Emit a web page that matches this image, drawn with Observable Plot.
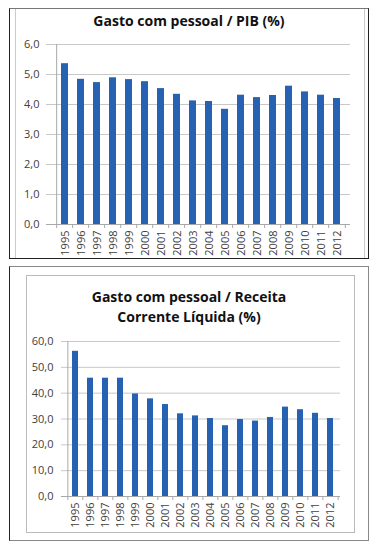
<!DOCTYPE html>
<html>
<head>
<meta charset="utf-8">
<script src="https://cdn.jsdelivr.net/npm/d3@7"></script>
<script src="https://cdn.jsdelivr.net/npm/@observablehq/plot@0.6"></script>
<style>
  html, body { margin: 0; padding: 0; background: #fff; }
  body { width: 378px; height: 546px; position: relative; overflow: hidden; font-family: "Open Sans", sans-serif; }
  .box { position: absolute; box-sizing: border-box; }
  .title { position: absolute; left: 0; width: 378px; text-align: center; font-weight: 700; color: #111; font-size: 14px; line-height: 19.5px; }
  .holder { position: absolute; }
</style>
</head>
<body>
<div class="box" style="left:9px;top:8px;width:360px;height:251px;border:1px solid #222;border-top-color:#777;"></div>
<div class="box" style="left:15px;top:9px;width:350px;height:249px;border-left:1px solid #ccc;border-right:1px solid #ccc;"></div>
<div class="title" style="top:11px;">Gasto com pessoal / PIB (%)</div>
<div class="holder" id="c1" style="left:10px;top:35px;"></div>

<div class="box" style="left:9px;top:266px;width:360px;height:275px;border:1px solid #222;border-top-color:#888;border-right-color:#888;border-bottom-color:#888;"></div>
<div class="box" style="left:26px;top:275px;width:329px;height:258px;border:1px solid #bbb;"></div>
<div class="title" style="top:287px;">Gasto com pessoal / Receita<br>Corrente Líquida (%)</div>
<div class="holder" id="c2" style="left:26px;top:330px;"></div>

<script>
const years = ["1995","1996","1997","1998","1999","2000","2001","2002","2003","2004","2005","2006","2007","2008","2009","2010","2011","2012"];
const pibValues = [5.36, 4.84, 4.73, 4.89, 4.83, 4.76, 4.53, 4.34, 4.12, 4.10, 3.84, 4.31, 4.23, 4.30, 4.61, 4.42, 4.31, 4.20];
const rclValues = [56.2, 45.8, 45.8, 45.8, 39.7, 37.8, 35.6, 32.0, 31.2, 30.2, 27.4, 29.8, 29.2, 30.6, 34.6, 33.6, 32.2, 30.2];
const pibTicks = [0, 1, 2, 3, 4, 5, 6];
const rclTicks = [0, 10, 20, 30, 40, 50, 60];

const barColor = "#2761b2";
const gridColor = "#c8c8c8";
const axisColor = "#a8a8a8";
const fmt = d => d.toFixed(1).replace(".", ",");

function chart(values, ticks, o) {
  const data = years.map((y, i) => ({year: y, value: values[i]}));
  const step = (o.width - o.marginLeft - o.marginRight) / years.length;
  const yMax = ticks[ticks.length - 1];
  return Plot.plot({
    width: o.width,
    height: o.height,
    marginLeft: o.marginLeft,
    marginRight: o.marginRight,
    marginTop: o.marginTop,
    marginBottom: o.marginBottom,
    style: {fontFamily: "Open Sans, sans-serif", fontSize: "11px", color: "#404040", background: "transparent"},
    x: {domain: years, paddingInner: 0.57, paddingOuter: 0.285, tickSize: 0, tickRotate: -90, tickPadding: 6, label: null},
    y: {domain: [0, yMax], ticks: ticks, tickFormat: fmt, tickSize: 0, tickPadding: o.tickPad, label: null},
    marks: [
      Plot.ruleY(ticks.filter(t => t > 0), {y: d => d, stroke: gridColor, insetLeft: -4}),
      Plot.barY(data, {x: "year", y: "value", fill: barColor}),
      Plot.ruleY([0], {stroke: axisColor, insetLeft: -4}),
      Plot.ruleX([years[0]], {x: d => d, dx: -step / 2, y1: 0, y2: yMax, stroke: axisColor}),
      Plot.ruleX(years, {x: d => d, dx: -step / 2, y1: 0, y2: 0, insetBottom: -4, stroke: axisColor}),
      Plot.ruleX([years[years.length - 1]], {x: d => d, dx: step / 2, y1: 0, y2: 0, insetBottom: -4, stroke: axisColor})
    ]
  });
}

document.getElementById("c1").append(chart(pibValues, pibTicks, {
  width: 358, height: 222, marginLeft: 40, marginRight: 18, marginTop: 9, marginBottom: 33, tickPad: 11
}));
document.getElementById("c2").append(chart(rclValues, rclTicks, {
  width: 328, height: 201, marginLeft: 39, marginRight: 14, marginTop: 11, marginBottom: 35, tickPad: 12
}));
</script>
</body>
</html>
